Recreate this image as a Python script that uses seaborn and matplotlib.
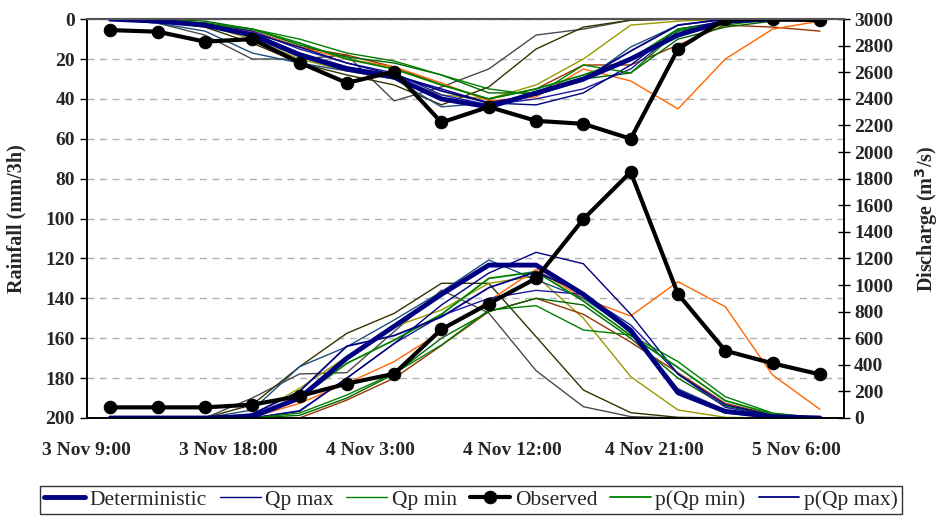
import numpy as np
import pandas as pd
import matplotlib
matplotlib.use("Agg")
import matplotlib.pyplot as plt
import seaborn as sns

# ---------------------
# Data
# ---------------------
tick_labels = ["3 Nov 9:00", "3 Nov 18:00", "4 Nov 3:00", "4 Nov 12:00", "4 Nov 21:00", "5 Nov 6:00"]
steps = list(range(16))  # 3-hourly steps

obs_rain = [5.5, 6.3, 11.3, 10, 21.8, 32, 26.3, 51.8, 44, 51, 52.5, 60, 15, 0, 0, 0.5]
obs_q = [80, 80, 80, 100, 165, 258, 333, 667, 860, 1050, 1496, 1850, 932, 506, 411, 328]

det_rain = [0, 1, 3, 8, 18, 25, 29, 40, 44, 37, 30, 20, 8, 1, 0, 0]
det_q = [0, 0, 0, 10, 150, 450, 690, 930, 1150, 1150, 930, 660, 190, 50, 10, 0]

qpmax_rain = [0, 1, 3, 7, 14, 22, 28, 35, 42, 43, 37, 23, 5, 1, 0, 0]
qpmax_q = [0, 0, 0, 0, 50, 300, 560, 850, 1090, 1246, 1160, 780, 330, 100, 20, 0]

qpmin_rain = [0, 0, 2, 5, 10, 17, 21, 28, 35, 38, 23, 27, 6, 3, 0, 0]
qpmin_q = [0, 0, 0, 0, 37, 173, 336, 549, 812, 845, 662, 624, 424, 160, 37, 0]

pqpmin_rain = [0, 1, 2, 5, 12, 20, 25, 33, 40, 35, 28, 20, 5, 2, 0, 0]
pqpmin_q = [0, 0, 0, 5, 150, 411, 586, 780, 1050, 1100, 880, 620, 380, 130, 30, 0]

pqpmax_rain = [0, 1, 3, 7, 17, 24, 28, 36, 42, 38, 30, 16, 3, 0, 0, 0]
pqpmax_q = [0, 0, 0, 30, 200, 540, 620, 760, 980, 1100, 940, 640, 210, 40, 5, 0]

# other ensemble members (not in legend)
orange_rain = [0, 1, 2, 6, 14, 20, 24, 32, 41, 39, 25, 31, 45, 20, 5, 1]
orange_q = [0, 0, 0, 5, 110, 261, 424, 649, 880, 1118, 900, 767, 1025, 837, 323, 65]

gray_rain = [0, 2, 8, 20, 20, 18, 41, 34, 25, 8, 5, 0.5, 0, 0, 0, 0]
gray_q = [0, 0, 0, 150, 331, 341, 650, 962, 790, 356, 85, 10, 0, 0, 0, 0]

darkolive_rain = [0, 1, 4, 12, 22, 28, 33, 43, 34, 15, 4, 0.5, 0, 0, 0, 0]
darkolive_q = [0, 0, 0, 100, 386, 637, 787, 1013, 1013, 611, 210, 40, 5, 0, 0, 0]

olive_rain = [0, 1, 3, 10, 20, 26, 30, 38, 40, 33, 20, 3, 1, 0, 0, 0]
olive_q = [0, 0, 0, 20, 223, 461, 687, 812, 1013, 1068, 750, 311, 60, 5, 0, 0]

brown_rain = [0, 1, 3, 6, 14, 18, 24, 33, 40, 35, 23, 23, 13, 3, 4, 6]
brown_q = [0, 0, 0, 0, 0, 135, 300, 545, 800, 900, 780, 570, 340, 110, 23, 0]

teal_rain = [0, 2, 6, 17, 22, 26, 30, 44, 42, 38, 31, 14, 3, 0, 0, 0]
teal_q = [0, 0, 0, 60, 386, 536, 737, 950, 1188, 1040, 900, 660, 220, 60, 10, 0]

green2_rain = [0, 0, 1, 5, 13, 19, 22, 28, 37, 37, 30, 27, 10, 4, 1, 0]
green2_q = [0, 0, 0, 0, 20, 150, 330, 600, 800, 900, 850, 600, 300, 90, 20, 0]

navy2_rain = [0, 1, 2, 6, 15, 22, 27, 38, 43, 40, 35, 25, 6, 1, 0, 0]
navy2_q = [0, 0, 0, 0, 55, 300, 560, 770, 900, 960, 930, 700, 330, 80, 15, 0]

# (rain, discharge, colour, width, legend label)
members = [
    (gray_rain, gray_q, "#4a4a4a", 1.0, None),
    (darkolive_rain, darkolive_q, "#333300", 1.0, None),
    (olive_rain, olive_q, "#999900", 1.0, None),
    (brown_rain, brown_q, "#993300", 1.0, None),
    (orange_rain, orange_q, "#ff6600", 1.0, None),
    (teal_rain, teal_q, "#1f4f7f", 1.0, None),
    (green2_rain, green2_q, "#006600", 1.0, None),
    (navy2_rain, navy2_q, "#1a1aa0", 1.0, None),
    (qpmax_rain, qpmax_q, "#000080", 1.0, "Qp max"),
    (qpmin_rain, qpmin_q, "#008000", 1.0, "Qp min"),
    (pqpmin_rain, pqpmin_q, "#008000", 1.3, "p(Qp min)"),
    (pqpmax_rain, pqpmax_q, "#000080", 1.3, "p(Qp max)"),
    (det_rain, det_q, "#000080", 3.5, "Deterministic"),
]

# ---------------------
# Plot
# ---------------------
sns.set_style("white")
plt.rcParams["font.family"] = ["Liberation Serif", "DejaVu Serif"]

fig = plt.figure(figsize=(9.42, 5.17), dpi=100)
ax = fig.add_axes([0.092, 0.1915, 0.8035, 0.7715])
ax2 = ax.twinx()

handles = {}
for rain, q, col, lw, lab in members:
    sns.lineplot(x=steps, y=rain, ax=ax, color=col, lw=lw, legend=False)
    sns.lineplot(x=steps, y=q, ax=ax2, color=col, lw=lw, legend=False)
    if lab:
        handles[lab] = ax2.lines[-1]

sns.lineplot(x=steps, y=obs_rain, ax=ax, color="black", lw=3, marker="o",
             markersize=9, markeredgecolor="black", legend=False, zorder=10)
sns.lineplot(x=steps, y=obs_q, ax=ax2, color="black", lw=3, marker="o",
             markersize=9, markeredgecolor="black", legend=False, zorder=10)
handles["Observed"] = ax2.lines[-1]

# left axis: rainfall, inverted
ax.set_xlim(-0.5, 15.5)
ax.set_ylim(200, 0)
ax.set_yticks(np.arange(0, 201, 20))
ax.yaxis.grid(True, color="#b0b0b0", linestyle=(0, (5, 4)), lw=1)
ax.set_ylabel("Rainfall (mm/3h)", fontsize=14.5, fontweight="bold", labelpad=14)

# right axis: discharge
ax2.set_ylim(0, 3000)
ax2.set_yticks(np.arange(0, 3001, 200))
ax2.set_ylabel("Discharge (m$^\\mathbf{3}$/s)", fontsize=14.5, fontweight="bold", labelpad=14)
ax2.grid(False)

# x axis: boundaries between 3-hourly steps
ax.set_xticks(np.arange(-0.5, 15.6, 3))
ax.set_xticklabels(tick_labels)
ax.set_xticks(np.arange(-0.5, 15.6, 1), minor=True)
ax.tick_params(axis="x", which="both", direction="out", length=5, width=1, color="black")
ax.tick_params(axis="x", labelsize=14, pad=12)
ax.tick_params(axis="y", direction="out", length=5, width=1, color="black", labelsize=14)
ax2.tick_params(axis="y", direction="inout", length=8, width=1, color="black", labelsize=14)
for lbl in ax.get_xticklabels() + ax.get_yticklabels() + ax2.get_yticklabels():
    lbl.set_fontweight("bold")

for a in (ax, ax2):
    for side in ("left", "right", "bottom"):
        a.spines[side].set_color("black")
        a.spines[side].set_linewidth(1.2)
    a.spines["top"].set_color("#555555")
    a.spines["top"].set_linewidth(1.5)

order = ["Deterministic", "Qp max", "Qp min", "Observed", "p(Qp min)", "p(Qp max)"]
leg = fig.legend([handles[k] for k in order], order, loc="center", bbox_to_anchor=(0.5, 0.033),
                 ncol=6, frameon=True, fancybox=False, edgecolor="black", fontsize=15.5,
                 handlelength=1.9, handletextpad=0.2, columnspacing=0.6, borderpad=0.2,
                 borderaxespad=0.2)
leg.get_frame().set_linewidth(1.0)

fig.savefig("out.png", dpi=100)
